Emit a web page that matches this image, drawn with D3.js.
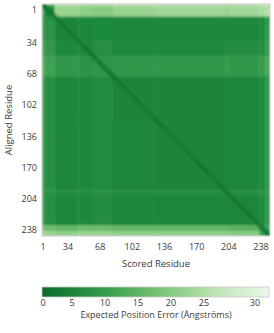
<!DOCTYPE html>
<html>
<head>
<meta charset="utf-8">
<script src="https://cdn.jsdelivr.net/npm/d3@7"></script>
<style>
  body { margin: 0; background: #fff; }
  text { font-family: "Open Sans", Roboto, sans-serif; fill: #3a3a3a; }
</style>
</head>
<body>
<div id="chart"></div>
<script>
var W = 274, H = 333;
var nRes = 238;

// residue segments (first residue of each), blocks of similar PAE
var segStart = [1, 4, 14, 39, 54, 75, 119, 192, 196, 228, 234];
// PAE per block: rows = aligned residue segment, cols = scored residue segment
var blockPAE = [
  [ 2, 12, 23, 22, 21, 23, 23, 22, 23, 24, 25],
  [12,  3, 20, 19, 18, 20, 21, 20, 21, 22, 23],
  [10,  7, 4.2, 4.5, 5, 4.5, 4.5, 5, 4.5, 5, 8],
  [11,  8,  5, 4.6,  6,  5,  5,  6, 5.5, 6,  9],
  [13, 10,  8,  7, 7.5, 8,  8,  9,  8,  9, 11],
  [10,  6, 4.5, 5, 5.5, 4.2, 4.2, 5, 4.5, 5, 8],
  [10,  6, 4.5, 5, 5.5, 4.3, 4.2, 4.5, 4.3, 5, 8],
  [10,  7, 5.8, 5.8, 6.5, 5.8, 5.8, 4.5, 5.8, 6.5, 9],
  [10,  6, 4.6, 5, 5.5, 4.6, 4.4, 4.5, 4.3, 5, 8],
  [16, 15, 14, 15, 15, 14, 14, 14, 13, 5, 10],
  [21, 20, 19, 20, 20, 19, 19, 19, 18, 10, 3]
];
// PAE right next to the diagonal, by offset |i - j|
var diagPAE = [1.4, 2.0, 2.7, 3.4];

var axisTicks = [1, 34, 68, 102, 136, 170, 204, 238];
var cbTicks = [0, 5, 10, 15, 20, 25, 30];
var cbMax = 31.75;

var svg = d3.select('#chart').append('svg')
    .attr('width', W).attr('height', H);

var x = d3.scaleLinear().domain([0.5, nRes + 0.5]).range([42, 270]);
var y = d3.scaleLinear().domain([0.5, nRes + 0.5]).range([4, 236]);

// tick label positions (labels in the reference are not evenly spread)
var xTick = d3.scaleLinear().domain([1, 34, 238]).range([43, 68, 261]);
var yTick = d3.scaleLinear().domain([1, 34, 238]).range([10, 43, 230]);

var color = d3.scaleLinear()
    .domain([0, 5, 10, 15, 20, 25, cbMax])
    .range(['#0b6a2c', '#1f8a3e', '#3fa152', '#6cbd6b', '#98d38f', '#c3e7ba', '#ecf8e8'])
    .interpolate(d3.interpolateRgb);

var segEnd = segStart.map(function(s, i) {
  return i < segStart.length - 1 ? segStart[i + 1] - 1 : nRes;
});

var blocks = [];
blockPAE.forEach(function(row, i) {
  row.forEach(function(v, j) {
    blocks.push({r0: segStart[i], r1: segEnd[i], c0: segStart[j], c1: segEnd[j], v: v});
  });
});

var diag = [];
for (var r = 1; r <= nRes; r++) {
  diagPAE.forEach(function(v, k) {
    [r + k, r - k].forEach(function(c, s) {
      if (c < 1 || c > nRes || (k === 0 && s === 1)) return;
      diag.push({r: r, c: c, v: v});
    });
  });
}

var defs = svg.append('defs');
defs.append('clipPath').attr('id', 'plotclip')
  .append('rect')
    .attr('x', x(0.5)).attr('y', y(0.5))
    .attr('width', x(nRes + 0.5) - x(0.5))
    .attr('height', y(nRes + 0.5) - y(0.5));
defs.append('filter').attr('id', 'soft')
  .append('feGaussianBlur').attr('stdDeviation', 1);

var heat = svg.append('g').attr('clip-path', 'url(#plotclip)')
  .append('g').attr('filter', 'url(#soft)');

heat.selectAll('rect.block')
  .data(blocks)
  .enter().append('rect')
    .attr('class', 'block')
    .attr('x', function(d) { return x(d.c0 - 0.5); })
    .attr('y', function(d) { return y(d.r0 - 0.5); })
    .attr('width', function(d) { return x(d.c1 + 0.5) - x(d.c0 - 0.5) + 0.3; })
    .attr('height', function(d) { return y(d.r1 + 0.5) - y(d.r0 - 0.5) + 0.3; })
    .attr('fill', function(d) { return color(d.v); });

heat.selectAll('rect.diag')
  .data(diag)
  .enter().append('rect')
    .attr('class', 'diag')
    .attr('x', function(d) { return x(d.c - 0.5); })
    .attr('y', function(d) { return y(d.r - 0.5); })
    .attr('width', x(1.5) - x(0.5) + 0.2)
    .attr('height', y(1.5) - y(0.5) + 0.2)
    .attr('fill', function(d) { return color(d.v); });

svg.append('rect')
    .attr('x', x(0.5)).attr('y', y(0.5))
    .attr('width', x(nRes + 0.5) - x(0.5))
    .attr('height', y(nRes + 0.5) - y(0.5))
    .attr('fill', 'none').attr('stroke', '#c8c8c8').attr('stroke-width', 1);

// axis labels
svg.append('g').selectAll('text')
  .data(axisTicks)
  .enter().append('text')
    .attr('x', function(d) { return xTick(d); })
    .attr('y', 250)
    .attr('text-anchor', 'middle')
    .style('font-size', '9px')
    .text(function(d) { return d; });

svg.append('g').selectAll('text')
  .data(axisTicks)
  .enter().append('text')
    .attr('x', 37)
    .attr('y', function(d) { return yTick(d); })
    .attr('dy', '0.35em')
    .attr('text-anchor', 'end')
    .style('font-size', '9px')
    .text(function(d) { return d; });

svg.append('text')
    .attr('x', 156).attr('y', 267)
    .attr('text-anchor', 'middle')
    .style('font-size', '9.5px')
    .text('Scored Residue');

svg.append('text')
    .attr('transform', 'translate(12,120) rotate(-90)')
    .attr('text-anchor', 'middle')
    .style('font-size', '9.5px')
    .text('Aligned Residue');

// colour bar
var cbX = d3.scaleLinear().domain([0, cbMax]).range([42, 269]);
var grad = defs.append('linearGradient').attr('id', 'cbgrad');
grad.selectAll('stop')
  .data(color.domain())
  .enter().append('stop')
    .attr('offset', function(d) { return (d / cbMax * 100) + '%'; })
    .attr('stop-color', function(d) { return color(d); });

svg.append('rect')
    .attr('x', cbX(0)).attr('y', 287)
    .attr('width', cbX(cbMax) - cbX(0)).attr('height', 10)
    .attr('fill', 'url(#cbgrad)')
    .attr('stroke', '#c8c8c8').attr('stroke-width', 0.8);

var cbTick = d3.scaleLinear().domain([0, 5, 25, 30]).range([43, 72, 204, 255]);
svg.append('g').selectAll('text')
  .data(cbTicks)
  .enter().append('text')
    .attr('x', function(d) { return cbTick(d); })
    .attr('y', 306)
    .attr('text-anchor', 'middle')
    .style('font-size', '9px')
    .text(function(d) { return d; });

svg.append('text')
    .attr('x', 156).attr('y', 318)
    .attr('text-anchor', 'middle')
    .style('font-size', '9px')
    .text('Expected Position Error (Ångströms)');
</script>
</body>
</html>
